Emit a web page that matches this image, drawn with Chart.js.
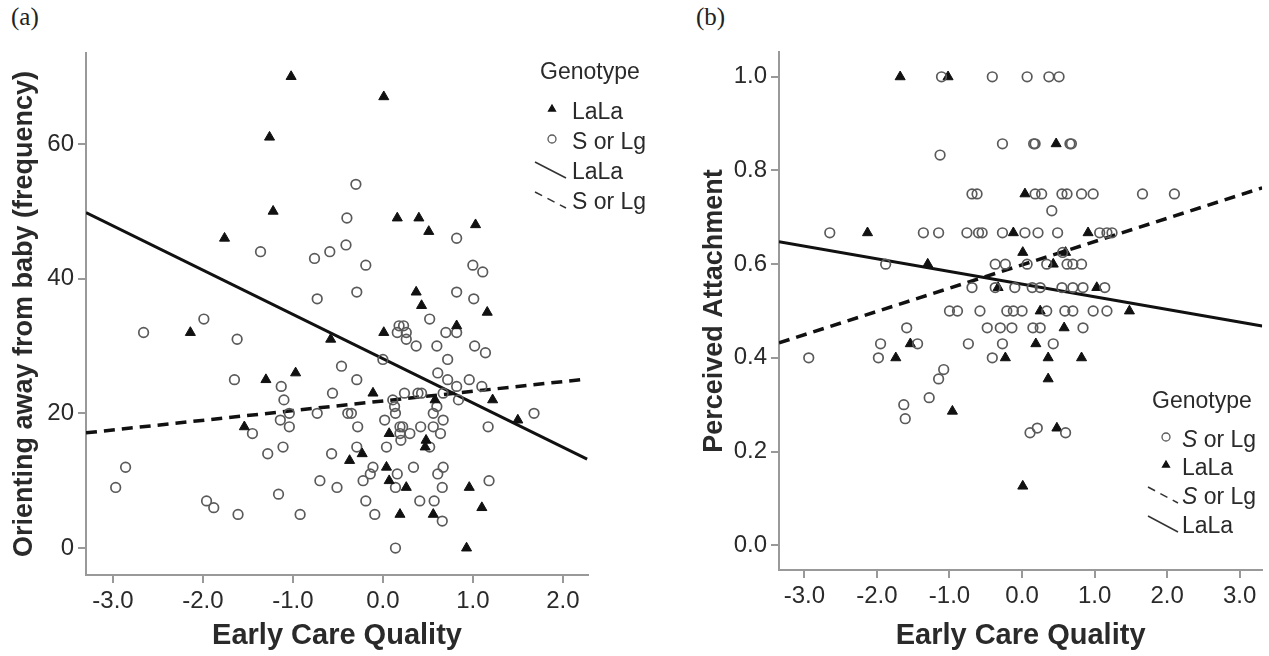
<!DOCTYPE html>
<html>
<head>
<meta charset="utf-8">
<script src="https://cdn.jsdelivr.net/npm/chart.js@4.4.0/dist/chart.umd.min.js"></script>
<style>
  body { margin: 0; background: #fff; }
  #wrap { position: relative; width: 1269px; height: 656px; }
  canvas { position: absolute; top: 0; }
  .tag { position: absolute; top: 3px; font: 25px "Liberation Serif", "Times New Roman", serif; color: #222; }
</style>
</head>
<body>
<div id="wrap">
  <div class="tag" style="left:11px">(a)</div>
  <div class="tag" style="left:696px">(b)</div>
  <canvas id="chartA" width="652" height="656" style="left:0"></canvas>
  <canvas id="chartB" width="579" height="656" style="left:690px"></canvas>
</div>
<script>
// ---- panel (a): orienting away from baby ----
var aXTicks = [-3, -2, -1, 0, 1, 2];
var aYTicks = [0, 20, 40, 60];
var aLaLaX = [-1.02, -1.26, -1.22, -1.76, 0.01, 0.16, 0.40, 0.51, 1.03, 0.37, 0.43, 1.16, 0.82, -2.14, -1.30, -0.97, -1.54, -0.58,
              0.01, -0.11, 0.58, 1.22, 1.50, 0.07, 0.48, 0.47, -0.23, -0.37, 0.04, 0.07, 0.26, 0.96, 0.19, 0.56, 1.10, 0.93];
var aLaLaY = [70, 61, 50, 46, 67, 49, 49, 47, 48, 38, 36, 35, 33, 32, 25, 26, 18, 31,
              32, 23, 22, 22, 19, 17, 16, 15, 14, 13, 12, 10, 9, 9, 5, 5, 6, 0];
var aSX = [-2.66, -1.99, -1.62, -1.65, -1.13, -1.10, -1.04, -1.14, -1.04, -1.45, -1.28, -1.11, -0.73, -0.70, -2.86, -2.97, -1.96, -1.88,
           -1.61, -1.16, -0.92, -1.36, -0.76, -0.73, -0.30, -0.40, -0.41, -0.59, -0.19, 0.82, 1.00, 1.11, -0.29, 0.82, 1.01, 0.52,
           0.18, 0.23, 0.16, 0.26, 0.26, 0.37, 0.70, 0.60, 0.72, 0.00, -0.46, -0.29, -0.56, 0.61, 0.72, -0.39, -0.35, -0.28,
           -0.57, -0.29, 0.02, 0.11, 0.13, 0.14, 0.24, 0.39, 0.43, 0.67, 0.60, 0.56, 0.67, 0.19, 0.22, 0.19, 0.20, 0.30,
           0.42, 0.56, 0.64, 0.04, 0.52, -0.11, -0.14, -0.22, 0.16, 0.14, 0.34, 0.61, 0.67, 0.66, -0.51, -0.19, -0.09, 0.41,
           0.57, 0.66, 0.14, 0.82, 1.02, 1.14, 0.96, 1.10, 0.84, 0.82, 1.68, 1.17, 1.18];
var aSY = [32, 34, 31, 25, 24, 22, 20, 19, 18, 17, 14, 15, 20, 10, 12, 9, 7, 6,
           5, 8, 5, 44, 43, 37, 54, 49, 45, 44, 42, 46, 42, 41, 38, 38, 37, 34,
           33, 33, 32, 32, 31, 30, 32, 30, 28, 28, 27, 25, 23, 26, 25, 20, 20, 18,
           14, 15, 19, 22, 21, 20, 23, 23, 23, 23, 21, 20, 19, 18, 18, 17, 16, 17,
           18, 18, 17, 15, 15, 12, 11, 10, 11, 9, 12, 11, 12, 9, 9, 7, 5, 7,
           7, 4, 0, 32, 30, 29, 25, 24, 22, 24, 20, 18, 10];
var aFitX = [-3.30, 2.27];
var aLaLaFitY = [49.8, 13.2];
var aSFitY = [17.1, 25.1];

// ---- panel (b): perceived attachment ----
var bXTicks = [-3, -2, -1, 0, 1, 2, 3];
var bYTicks = [0, 0.2, 0.4, 0.6, 0.8, 1.0];
var bSX = [-1.11, -0.41, 0.07, 0.37, 0.51, -1.13, -0.27, 0.16, 0.18, 0.66, 0.68,
           -0.69, -0.62, 0.18, 0.27, 0.55, 0.62, 0.82, 0.98, 1.66, 2.10, 0.41,
           -2.65, -1.36, -1.15, -0.76, -0.60, -0.55, -0.27, 0.04, 0.22, 0.49, 1.07, 1.17, 1.24, 0.56,
           -1.88, -0.37, -0.23, 0.07, 0.34, 0.62, 0.70, 0.82,
           -0.69, -0.37, -0.10, 0.14, 0.25, 0.55, 0.70, 0.84, 1.14,
           -1.00, -0.89, -0.58, -0.21, -0.12, 0.00, 0.34, 0.59, 0.70, 0.98, 1.17,
           -1.59, -0.48, -0.30, -0.14, 0.15, 0.25, 0.84,
           -1.95, -1.44, -0.74, -0.27, 0.43, -2.94, -1.98, -0.41,
           -1.08, -1.15, -1.28, -1.63, -1.61, 0.21, 0.11, 0.60];
var bSY = [1.0, 1.0, 1.0, 1.0, 1.0, 0.833, 0.857, 0.857, 0.857, 0.857, 0.857,
           0.75, 0.75, 0.75, 0.75, 0.75, 0.75, 0.75, 0.75, 0.75, 0.75, 0.714,
           0.667, 0.667, 0.667, 0.667, 0.667, 0.667, 0.667, 0.667, 0.667, 0.667, 0.667, 0.667, 0.667, 0.625,
           0.60, 0.60, 0.60, 0.60, 0.60, 0.60, 0.60, 0.60,
           0.55, 0.55, 0.55, 0.55, 0.55, 0.55, 0.55, 0.55, 0.55,
           0.50, 0.50, 0.50, 0.50, 0.50, 0.50, 0.50, 0.50, 0.50, 0.50, 0.50,
           0.464, 0.464, 0.464, 0.464, 0.464, 0.464, 0.464,
           0.43, 0.43, 0.43, 0.43, 0.43, 0.40, 0.40, 0.40,
           0.375, 0.355, 0.315, 0.30, 0.27, 0.25, 0.24, 0.24];
var bLaLaX = [-1.68, -1.02, 0.47, 0.04, -2.13, -0.12, 0.91, 0.01, 0.60, -1.30, 0.43, -0.33, 1.03,
              0.25, 1.48, 0.58, -1.54, 0.19, -1.74, -0.23, 0.36, 0.82, 0.36, -0.96, 0.48, 0.01];
var bLaLaY = [1.0, 1.0, 0.857, 0.75, 0.667, 0.667, 0.667, 0.625, 0.625, 0.60, 0.60, 0.55, 0.55,
              0.50, 0.50, 0.464, 0.43, 0.43, 0.40, 0.40, 0.40, 0.40, 0.355, 0.286, 0.25, 0.126];
var bFitX = [-3.35, 3.31];
var bSFitY = [0.432, 0.763];
var bLaLaFitY = [0.648, 0.468];

Chart.defaults.font.family = '"Liberation Sans", Arial, sans-serif';
Chart.defaults.color = '#2a2a2a';

function pts(xs, ys) {
    return xs.map(function(x, i) { return { x: x, y: ys[i] }; });
}

function triangles(label, xs, ys) {
    return { label: label, data: pts(xs, ys), pointStyle: 'triangle', pointRadius: 5.8,
             pointBackgroundColor: '#111', pointBorderColor: '#111', pointBorderWidth: 1 };
}

function circles(label, xs, ys) {
    return { label: label, data: pts(xs, ys), pointStyle: 'circle', pointRadius: 4.8,
             pointBackgroundColor: 'rgba(0,0,0,0)', pointBorderColor: '#5a5a5a', pointBorderWidth: 1.7 };
}

function fitLine(label, xs, ys, dashed) {
    return { label: label, data: pts(xs, ys), showLine: true, pointRadius: 0, fill: false,
             borderColor: '#111', borderWidth: dashed ? 3.5 : 3, borderDash: dashed ? [11, 7] : [] };
}

// legend drawn inside the plot, like the SPSS output
var genoLegend = {
    id: 'genoLegend',
    afterDraw: function(chart, args, o) {
        var ctx = chart.ctx;
        ctx.save();
        ctx.font = '23px "Liberation Sans", Arial, sans-serif';
        ctx.fillStyle = '#2a2a2a';
        ctx.textBaseline = 'middle';
        ctx.fillText('Genotype', o.x, o.y);
        o.rows.forEach(function(y, i) {
            var ds = chart.data.datasets[i];
            if (ds.showLine) {
                ctx.strokeStyle = '#333';
                ctx.lineWidth = 1.5;
                ctx.setLineDash(ds.borderDash.length ? [8, 6] : []);
                ctx.beginPath();
                ctx.moveTo(o.lineX0, y - 11);
                ctx.lineTo(o.lineX1, y + 5);
                ctx.stroke();
                ctx.setLineDash([]);
            } else {
                ctx.fillStyle = ds.pointBackgroundColor;
                ctx.strokeStyle = ds.pointBorderColor;
                ctx.lineWidth = 1.3;
                Chart.helpers.drawPoint(ctx, { pointStyle: ds.pointStyle, radius: 4, borderWidth: 1.3, rotation: 0 }, o.markerX, y - 4);
            }
            ctx.fillStyle = '#2a2a2a';
            var text = ds.label;
            var tx = o.textX;
            if (o.italicS && text.charAt(0) === 'S') {
                ctx.font = 'italic 23px "Liberation Sans", Arial, sans-serif';
                ctx.fillText('S', tx, y);
                tx += ctx.measureText('S').width;
                text = text.substring(1);
                ctx.font = '23px "Liberation Sans", Arial, sans-serif';
            }
            ctx.fillText(text, tx, y);
        });
        ctx.restore();
    }
};

function axisX(min, max, ticks, height) {
    return {
        type: 'linear', min: min, max: max,
        afterFit: function(s) { s.height = height; },
        afterBuildTicks: function(s) { s.ticks = ticks.map(function(v) { return { value: v }; }); },
        grid: { drawOnChartArea: false, drawTicks: true, tickLength: 8, color: '#999', lineWidth: 2 },
        border: { display: true, color: '#999', width: 2 },
        ticks: { font: { size: 24 }, padding: 4, maxRotation: 0, autoSkip: false,
                 callback: function(v) { return v.toFixed(1); } },
        title: { display: true, text: 'Early Care Quality',
                 font: { size: 29, weight: 'bold' }, padding: { top: 0, bottom: 3 } }
    };
}

function axisY(min, max, ticks, width, title, digits) {
    return {
        type: 'linear', min: min, max: max,
        afterFit: function(s) { s.width = width; },
        afterBuildTicks: function(s) { s.ticks = ticks.map(function(v) { return { value: v }; }); },
        grid: { drawOnChartArea: false, drawTicks: true, tickLength: 8, color: '#999', lineWidth: 2 },
        border: { display: true, color: '#999', width: 2 },
        ticks: { font: { size: 24 }, padding: 4, autoSkip: false,
                 callback: function(v) { return v.toFixed(digits); } },
        title: { display: true, text: title,
                 font: { size: 27, weight: 'bold' }, padding: { top: 8, bottom: 0 } }
    };
}

new Chart(document.getElementById('chartA'), {
    type: 'scatter',
    data: {
        datasets: [
            triangles('LaLa', aLaLaX, aLaLaY),
            circles('S or Lg', aSX, aSY),
            fitLine('LaLa', aFitX, aLaLaFitY, false),
            fitLine('S or Lg', aFitX, aSFitY, true)
        ]
    },
    options: {
        responsive: false,
        animation: false,
        devicePixelRatio: 1,
        layout: { padding: { top: 53, right: 64, left: 0, bottom: 0 } },
        scales: {
            x: axisX(-3.30, 2.28, aXTicks, 81),
            y: axisY(-4.0, 73.5, aYTicks, 86, 'Orienting away from baby (frequency)', 0)
        },
        plugins: {
            legend: { display: false },
            tooltip: { enabled: false },
            genoLegend: { x: 540, y: 73, rows: [113, 143, 173, 203], markerX: 552, textX: 572, lineX0: 535, lineX1: 566, italicS: false }
        }
    },
    plugins: [genoLegend]
});

new Chart(document.getElementById('chartB'), {
    type: 'scatter',
    data: {
        datasets: [
            circles('S or Lg', bSX, bSY),
            triangles('LaLa', bLaLaX, bLaLaY),
            fitLine('S or Lg', bFitX, bSFitY, true),
            fitLine('LaLa', bFitX, bLaLaFitY, false)
        ]
    },
    options: {
        responsive: false,
        animation: false,
        devicePixelRatio: 1,
        layout: { padding: { top: 52, right: 6, left: 0, bottom: 0 } },
        scales: {
            x: axisX(-3.35, 3.31, bXTicks, 86),
            y: axisY(-0.053, 1.053, bYTicks, 89, 'Perceived Attachment', 1)
        },
        plugins: {
            legend: { display: false },
            tooltip: { enabled: false },
            genoLegend: { x: 462, y: 402, rows: [441, 469, 498, 527], markerX: 476, textX: 492, lineX0: 458, lineX1: 488, italicS: true }
        }
    },
    plugins: [genoLegend]
});
</script>
</body>
</html>
